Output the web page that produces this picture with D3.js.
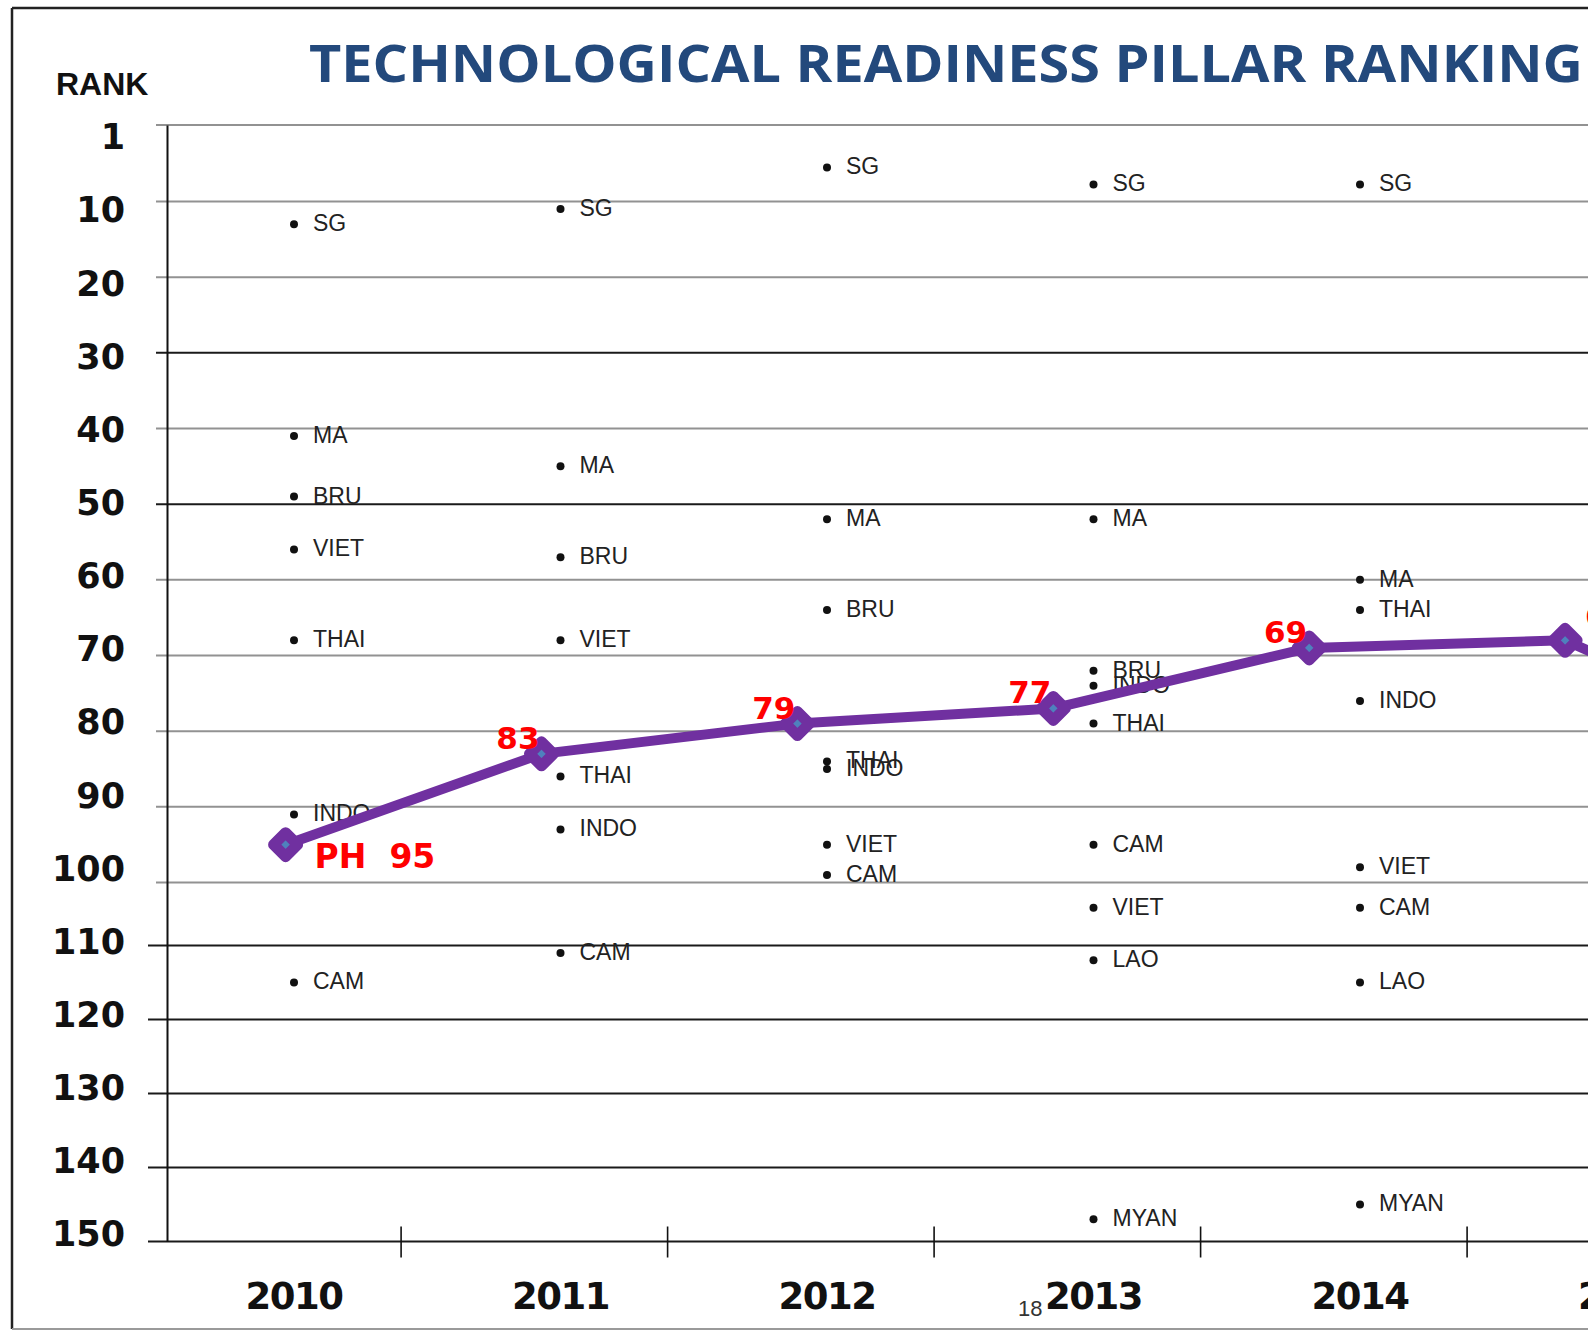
<!DOCTYPE html>
<html>
<head>
<meta charset="utf-8">
<script src="https://cdn.jsdelivr.net/npm/d3@7"></script>
<style>
  body { margin: 0; background: #fff; }
  svg { display: block; }
</style>
</head>
<body>
<svg id="chart"></svg>
<script>
// ---- data ----
var years = [2010, 2011, 2012, 2013, 2014];
var yearLabels = ["2010", "2011", "2012", "2013", "2014", "2015"];
var labelYears = [2010, 2011, 2012, 2013, 2014, 2015];

var rankTicks = [1, 10, 20, 30, 40, 50, 60, 70, 80, 90, 100, 110, 120, 130, 140, 150];
var rankLabels = ["1", "10", "20", "30", "40", "50", "60", "70", "80", "90", "100", "110", "120", "130", "140", "150"];

// philippines, the purple line
var phYears = [2010, 2011, 2012, 2013, 2014, 2015, 2016];
var phRank = [95, 83, 79, 77, 69, 68, 83];

// other asean members, one value per year (null = not shown)
var countries = ["SG", "MA", "BRU", "VIET", "THAI", "INDO", "CAM", "LAO", "MYAN"];
var sgRank = [13, 11, 6, 8, 8];
var maRank = [41, 45, 52, 52, 60];
var bruRank = [49, 57, 64, 72, null];
var vietRank = [56, 68, 95, 104, 98];
var thaiRank = [68, 86, 84, 79, 64];
var indoRank = [91, 93, 85, 74, 76];
var camRank = [115, 111, 99, 95, 104];
var laoRank = [null, null, null, 112, 115];
var myanRank = [null, null, null, 147, 145];
var countryRanks = [sgRank, maRank, bruRank, vietRank, thaiRank, indoRank, camRank, laoRank, myanRank];

// ---- layout ----
var W = 1588, H = 1331;
var axisX = 167;
var darkLines = [30, 50, 110, 120, 130, 140, 150];

var svg = d3.select("#chart").attr("width", W).attr("height", H);

// slide drew its grid unevenly, so the scale follows the drawn lines
var y = d3.scaleLinear()
  .domain([1, 10, 100, 110, 150])
  .range([125, 201.5, 882.5, 945.5, 1241.5]);

// rank labels sit in their own evenly spaced column
var yLab = d3.scalePoint().domain(rankLabels).range([136.7, 1233.8]);

var xLine = d3.scaleLinear().domain([2010, 2016]).range([285.6, 285.6 + 6 * 255.9]);
var xCat = d3.scaleLinear().domain([2010, 2014]).range([294, 1360]);

// frame
svg.append("line").attr("x1", 12).attr("x2", W).attr("y1", 8).attr("y2", 8)
  .attr("stroke", "#222").attr("stroke-width", 2.5);
svg.append("line").attr("x1", 12).attr("x2", 12).attr("y1", 8).attr("y2", 1329)
  .attr("stroke", "#222").attr("stroke-width", 2.5);
svg.append("line").attr("x1", 12).attr("x2", W).attr("y1", 1329).attr("y2", 1329)
  .attr("stroke", "#9a9a9a").attr("stroke-width", 2);

// title
svg.append("text")
  .attr("x", 309).attr("y", 82)
  .attr("textLength", 1274).attr("lengthAdjust", "spacingAndGlyphs")
  .style("font-family", "'Open Sans', 'Noto Sans', sans-serif")
  .style("font-weight", "bold").style("font-size", "52px")
  .attr("fill", "#23497c")
  .text("TECHNOLOGICAL READINESS PILLAR RANKING");

svg.append("text")
  .attr("x", 56).attr("y", 95)
  .style("font-family", "'Liberation Sans', Arial, sans-serif")
  .style("font-weight", "bold").style("font-size", "32px")
  .attr("fill", "#111")
  .text("RANK");

// gridlines
svg.append("g").attr("class", "grid")
  .selectAll("line")
  .data(rankTicks)
  .enter().append("line")
  .attr("x1", function(d) { return d >= 110 ? 148 : 156; })
  .attr("x2", W)
  .attr("y1", function(d) { return y(d); })
  .attr("y2", function(d) { return y(d); })
  .attr("stroke", function(d) { return darkLines.indexOf(d) >= 0 ? "#1a1a1a" : "#929292"; })
  .attr("stroke-width", 2);

// y axis line
svg.append("g")
  .attr("transform", "translate(" + axisX + ",0)")
  .call(d3.axisLeft(y).tickValues([]).tickSizeOuter(0))
  .select(".domain").attr("stroke", "#111").attr("stroke-width", 2);

svg.append("g").attr("class", "rank-labels")
  .selectAll("text")
  .data(rankLabels)
  .enter().append("text")
  .attr("x", 125)
  .attr("y", function(d) { return yLab(d); })
  .attr("dy", "0.36em")
  .attr("text-anchor", "end")
  .style("font-family", "'DejaVu Sans', Verdana, sans-serif")
  .style("font-weight", "bold").style("font-size", "35px")
  .attr("fill", "#111")
  .text(function(d) { return d; });

// x axis: ticks between the years
var xAxis = svg.append("g")
  .attr("transform", "translate(0,1226.5)")
  .call(d3.axisBottom(xCat)
    .tickValues(years.map(function(d) { return d + 0.4; }))
    .tickFormat("")
    .tickSize(31)
    .tickSizeOuter(0));
xAxis.select(".domain").remove();
xAxis.selectAll(".tick line").attr("stroke", "#111").attr("stroke-width", 1.6);

svg.append("g").attr("class", "year-labels")
  .selectAll("text")
  .data(labelYears)
  .enter().append("text")
  .attr("x", function(d) { return xCat(d); })
  .attr("y", 1309)
  .attr("text-anchor", "middle")
  .style("font-family", "'DejaVu Sans', Verdana, sans-serif")
  .style("font-weight", "bold").style("font-size", "37px")
  .style("letter-spacing", "-1.5px")
  .attr("fill", "#111")
  .text(function(d, i) { return yearLabels[i]; });

// slide number
svg.append("text")
  .attr("x", 1018).attr("y", 1316)
  .style("font-family", "'Liberation Sans', Arial, sans-serif")
  .style("font-size", "22px")
  .attr("fill", "#333")
  .text("18");

// country dots
var dots = [];
countries.forEach(function(c, ci) {
  countryRanks[ci].forEach(function(r, yi) {
    if (r != null) dots.push({name: c, year: years[yi], rank: r});
  });
});

var dotG = svg.append("g").attr("class", "dots")
  .selectAll("g")
  .data(dots)
  .enter().append("g")
  .attr("transform", function(d) { return "translate(" + xCat(d.year) + "," + y(d.rank) + ")"; });

dotG.append("circle").attr("r", 4).attr("fill", "#111");
dotG.append("text")
  .attr("x", 19).attr("dy", "0.3em")
  .style("font-family", "'Liberation Sans', Arial, sans-serif")
  .style("font-size", "23px")
  .attr("fill", "#222")
  .text(function(d) { return d.name; });

// philippines line
var ph = phYears.map(function(d, i) { return {year: d, rank: phRank[i]}; });

var line = d3.line()
  .x(function(d) { return xLine(d.year); })
  .y(function(d) { return y(d.rank); });

svg.append("path")
  .datum(ph)
  .attr("d", line)
  .attr("fill", "none")
  .attr("stroke", "#7030a0")
  .attr("stroke-width", 10)
  .attr("stroke-linejoin", "round");

svg.append("g").attr("class", "markers")
  .selectAll("path")
  .data(ph)
  .enter().append("path")
  .attr("transform", function(d) { return "translate(" + xLine(d.year) + "," + y(d.rank) + ")"; })
  .attr("d", "M0,-12L12,0L0,12L-12,0Z")
  .attr("fill", "#4f81bd")
  .attr("stroke", "#7030a0")
  .attr("stroke-width", 11)
  .attr("stroke-linejoin", "round");

svg.append("g").attr("class", "ph-labels")
  .selectAll("text")
  .data(ph.slice(0, 6))
  .enter().append("text")
  .attr("x", function(d, i) {
    var x = xLine(d.year);
    if (i === 0) return x + 29;
    return i <= 4 ? x - 2 : x + 20;
  })
  .attr("y", function(d, i) {
    var yy = y(d.rank);
    if (i === 0) return yy + 23;
    return i <= 4 ? yy - 5 : yy - 13;
  })
  .attr("text-anchor", function(d, i) { return (i > 0 && i <= 4) ? "end" : "start"; })
  .style("white-space", "pre")
  .style("font-family", "'DejaVu Sans', Verdana, sans-serif")
  .style("font-weight", "bold")
  .style("font-size", function(d, i) { return i === 0 ? "33px" : "31px"; })
  .attr("fill", "#ff0000")
  .text(function(d, i) { return i === 0 ? "PH  " + d.rank : d.rank; });
</script>
</body>
</html>
